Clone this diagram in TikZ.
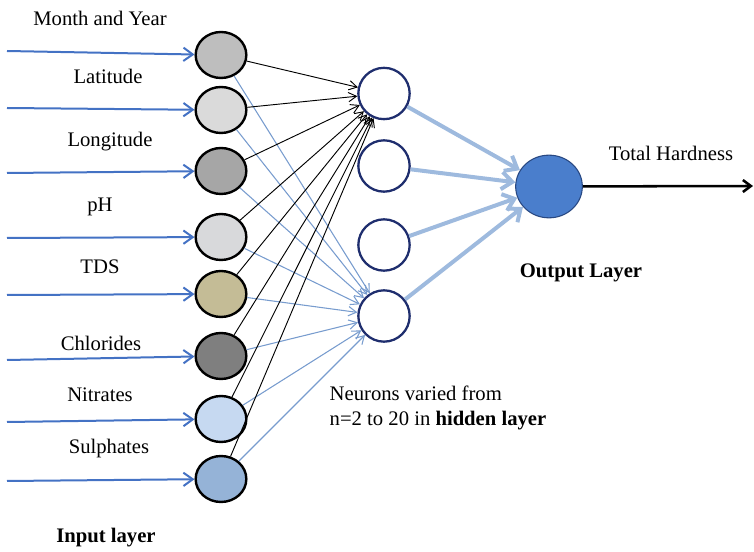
\documentclass[tikz,border=0pt]{standalone}
\usepackage{fontspec}
\setmainfont{Liberation Serif}
\usetikzlibrary{arrows.meta,shapes.geometric}

\definecolor{inblue}{RGB}{68,114,196}
\definecolor{thinblue}{RGB}{120,156,206}
\definecolor{thickblue}{RGB}{158,186,222}
\definecolor{navy}{RGB}{31,46,110}
\definecolor{outfill}{RGB}{74,126,204}
\definecolor{outdraw}{RGB}{40,72,130}

\tikzset{
    lbl/.style={font=\fontsize{15.5}{18.75}\selectfont},
    inneuron/.style={ellipse,draw=black,line width=1.8pt,minimum width=38pt,minimum height=34.5pt,inner sep=0pt},
    hidneuron/.style={circle,draw=navy,line width=1.7pt,fill=white,minimum size=38.5pt,inner sep=0pt},
    outneuron/.style={ellipse,draw=outdraw,line width=0.8pt,fill=outfill,minimum width=50pt,minimum height=47pt,inner sep=0pt},
    inarrow/.style={draw=inblue,line width=1.5pt,-{Straight Barb[length=7pt,width=10pt]}},
    blackedge/.style={draw=black,line width=0.7pt,-{Straight Barb[length=6pt,width=7pt]}},
    blueedge/.style={draw=thinblue,line width=0.8pt,-{Straight Barb[length=6pt,width=7pt]}},
    thickedge/.style={draw=thickblue,line width=3pt,-{Straight Barb[length=8pt,width=13pt]}}
}

\begin{document}
\begin{tikzpicture}[x=0.75pt,y=-0.75pt]

    \useasboundingbox (0,0) rectangle (754,552);

    % input layer
    \node[inneuron,fill={rgb,255:red,190;green,190;blue,190}] (in1) at (221,55) {};
    \node[inneuron,fill={rgb,255:red,218;green,218;blue,218}] (in2) at (221,110) {};
    \node[inneuron,fill={rgb,255:red,166;green,166;blue,166}] (in3) at (221,171) {};
    \node[inneuron,fill={rgb,255:red,216;green,217;blue,219}] (in4) at (221,237) {};
    \node[inneuron,fill={rgb,255:red,196;green,188;blue,150}] (in5) at (221,294) {};
    \node[inneuron,fill={rgb,255:red,127;green,127;blue,127}] (in6) at (221,356) {};
    \node[inneuron,fill={rgb,255:red,198;green,217;blue,241}] (in7) at (221,419) {};
    \node[inneuron,fill={rgb,255:red,149;green,179;blue,215}] (in8) at (221,479) {};

    \coordinate (s1) at (7,51);
    \coordinate (s2) at (7,108);
    \coordinate (s3) at (7,173);
    \coordinate (s4) at (7,238);
    \coordinate (s5) at (7,295);
    \coordinate (s6) at (7,360);
    \coordinate (s7) at (7,422);
    \coordinate (s8) at (7,481);

    \node[lbl] (l1) at (100,18) {Month and Year};
    \node[lbl] (l2) at (108,76) {Latitude};
    \node[lbl] (l3) at (110,142) {Longitude};
    \node[lbl] (l4) at (100,207) {pH};
    \node[lbl] (l5) at (100,267) {TDS};
    \node[lbl] (l6) at (101,343) {Chlorides};
    \node[lbl] (l7) at (100,395) {Nitrates};
    \node[lbl] (l8) at (109,449) {Sulphates};
    \node[lbl,font=\fontsize{15.5}{18.75}\selectfont\bfseries] (inlayer) at (106,538) {Input layer};

    % hidden layer
    \node[hidneuron] (h1) at (384,93.5) {};
    \node[hidneuron] (h2) at (384,166) {};
    \node[hidneuron] (h3) at (384,245) {};
    \node[hidneuron] (h4) at (384,316) {};

    \node[lbl,anchor=west,align=left] (hidtext) at (325,407.5)
        {Neurons varied from\\n=2 to 20 in \textbf{hidden layer}};

    % output layer
    \node[outneuron] (out) at (549,186.5) {};
    \coordinate (tip) at (753,186);
    \node[lbl] (target) at (671,153) {Total Hardness};
    \node[lbl,font=\fontsize{15.5}{18.75}\selectfont\bfseries] (outlayer) at (581,273) {Output Layer};

    % connections
    \foreach \i in {1,...,8} {
        \draw[inarrow] (s\i) -- (in\i);
        \draw[blueedge] (in\i) -- (h4);
        \draw[blackedge] (in\i) -- (h1);
    }
    \foreach \j in {1,...,4}
        \draw[thickedge] (h\j) -- (out);
    \draw[line width=1.9pt,-{Straight Barb[length=6pt,width=9pt]}] (out) -- (tip);

\end{tikzpicture}
\end{document}
